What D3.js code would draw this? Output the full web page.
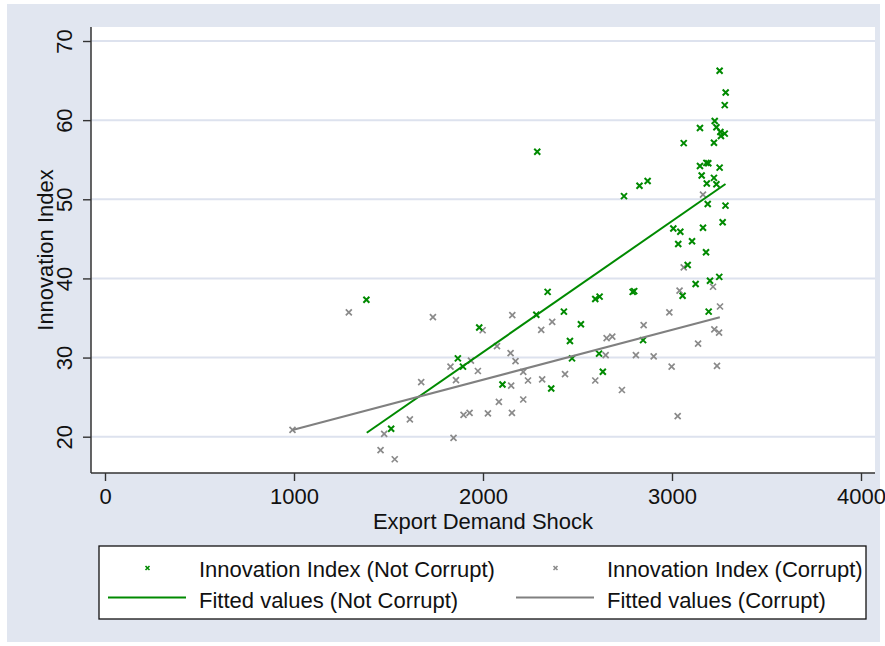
<!DOCTYPE html>
<html>
<head>
<meta charset="utf-8">
<script src="https://cdn.jsdelivr.net/npm/d3@7"></script>
<style>
  body { margin: 0; background: #ffffff; }
  text { font-family: "Liberation Sans", Arial, Helvetica, sans-serif; }
</style>
</head>
<body>
<div id="chart"></div>
<script>
// scatter points
var notCorruptX = [1383, 1514, 1867, 1894, 1980, 2103, 2282, 2287, 2342, 2361, 2428, 2460, 2471, 2518,
  2594, 2617, 2614, 2634, 2746, 2792, 2800, 2828, 2847, 2871, 3007, 3033, 3044, 3056, 3062, 3083,
  3106, 3125, 3148, 3148, 3157, 3164, 3180, 3182, 3184, 3189, 3192, 3194, 3201, 3222, 3222, 3226,
  3235, 3235, 3250, 3252, 3252, 3256, 3259, 3268, 3279, 3279, 3283, 3284];
var notCorruptY = [37.3, 21.0, 29.9, 28.85, 33.8, 26.6, 35.4, 56.0, 38.3, 26.1, 35.8, 32.1, 29.9, 34.2,
  37.4, 37.7, 30.5, 28.2, 50.4, 38.3, 38.4, 51.7, 32.2, 52.3, 46.3, 44.35, 45.9, 37.8, 57.1, 41.7,
  44.7, 39.3, 59.0, 54.2, 53.0, 46.4, 43.3, 54.6, 52.0, 49.4, 54.55, 35.8, 39.7, 57.15, 52.7, 59.9,
  59.1, 51.9, 40.2, 66.25, 54.0, 58.5, 58.0, 47.1, 61.9, 58.3, 49.2, 63.5];

var corruptX = [992, 1290, 1458, 1477, 1533, 1613, 1673, 1735, 1828, 1844, 1857, 1897, 1929, 1936,
  1973, 1998, 2026, 2074, 2084, 2146, 2149, 2153, 2155, 2172, 2213, 2213, 2238, 2308, 2313, 2366,
  2434, 2594, 2649, 2654, 2684, 2735, 2809, 2850, 2903, 2986, 2998, 3030, 3040, 3062, 3138, 3164,
  3217, 3224, 3238, 3249, 3254];
var corruptY = [20.85, 35.7, 18.3, 20.35, 17.15, 22.2, 26.9, 35.1, 28.85, 19.85, 27.15, 22.75, 23.0, 29.6,
  28.3, 33.45, 22.95, 31.45, 24.4, 30.55, 26.45, 23.0, 35.35, 29.55, 28.2, 24.7, 27.1, 33.5, 27.25, 34.5,
  27.9, 27.1, 30.3, 32.45, 32.65, 25.9, 30.3, 34.1, 30.15, 35.7, 28.85, 22.6, 38.45, 41.4, 31.75, 50.6,
  38.95, 33.55, 28.95, 33.15, 36.45];

// fitted lines (ends)
var fitNotCorruptX = [1385, 3283];
var fitNotCorruptY = [20.5, 51.93];
var fitCorruptX = [992, 3253];
var fitCorruptY = [20.85, 35.09];

var xTicks = [0, 1000, 2000, 3000, 4000];
var yTicks = [20, 30, 40, 50, 60, 70];
var legendLabels = ['Innovation Index (Not Corrupt)', 'Innovation Index (Corrupt)',
                    'Fitted values (Not Corrupt)', 'Fitted values (Corrupt)'];

var green = '#008a00', gray = '#8a8a8a';
var width = 885, height = 646;
var plot = { left: 91, right: 875, top: 27, bottom: 473 };

var svg = d3.select('#chart').append('svg')
    .attr('width', width)
    .attr('height', height);

svg.append('rect')
    .attr('x', 7).attr('y', 4)
    .attr('width', 873).attr('height', 638)
    .attr('fill', '#e1e6f0');

svg.append('rect')
    .attr('x', plot.left).attr('y', plot.top)
    .attr('width', plot.right - plot.left).attr('height', plot.bottom - plot.top)
    .attr('fill', '#ffffff');

var x = d3.scaleLinear().domain([0, 4000]).range([105, 861]);
var y = d3.scaleLinear().domain([20, 70]).range([436.7, 41]);

// grid
svg.append('g').selectAll('line')
    .data(yTicks)
    .enter().append('line')
    .attr('x1', plot.left).attr('x2', plot.right)
    .attr('y1', function (d) { return y(d); })
    .attr('y2', function (d) { return y(d); })
    .attr('stroke', '#dde2ee')
    .attr('stroke-width', 2);

// axes
var xAxis = svg.append('g')
    .attr('transform', 'translate(0,' + plot.bottom + ')')
    .call(d3.axisBottom(x).tickValues(xTicks).tickFormat(d3.format('d')).tickSize(8).tickPadding(7));
xAxis.select('.domain').remove();
xAxis.selectAll('line').attr('stroke', '#333').attr('stroke-width', 1.4);
xAxis.selectAll('text')
    .attr('fill', '#111')
    .style('font-size', '22px');

var yAxis = svg.append('g')
    .attr('transform', 'translate(' + plot.left + ',0)')
    .call(d3.axisLeft(y).tickValues(yTicks).tickFormat(d3.format('d')).tickSize(8));
yAxis.select('.domain').remove();
yAxis.selectAll('line').attr('stroke', '#333').attr('stroke-width', 1.4);
yAxis.selectAll('text')
    .attr('x', null).attr('dy', null)
    .attr('transform', 'translate(-19,0) rotate(-90)')
    .attr('text-anchor', 'middle')
    .attr('fill', '#111')
    .style('font-size', '22px');

svg.append('line')
    .attr('x1', plot.left).attr('x2', plot.right)
    .attr('y1', plot.bottom).attr('y2', plot.bottom)
    .attr('stroke', '#333').attr('stroke-width', 1.5);
svg.append('line')
    .attr('x1', plot.left).attr('x2', plot.left)
    .attr('y1', plot.top).attr('y2', plot.bottom)
    .attr('stroke', '#333').attr('stroke-width', 1.5);

svg.append('text')
    .attr('x', (x(0) + x(4000)) / 2).attr('y', 529)
    .attr('text-anchor', 'middle')
    .style('font-size', '22px')
    .attr('fill', '#111')
    .text('Export Demand Shock');

svg.append('text')
    .attr('transform', 'translate(53,' + (plot.top + plot.bottom) / 2 + ') rotate(-90)')
    .attr('text-anchor', 'middle')
    .style('font-size', '22px')
    .attr('fill', '#111')
    .text('Innovation Index');

// markers
function cross(s) {
    return 'M' + (-s) + ',' + (-s) + 'L' + s + ',' + s + 'M' + (-s) + ',' + s + 'L' + s + ',' + (-s);
}

var corrupt = corruptX.map(function (d, i) { return [d, corruptY[i]]; });
var notCorrupt = notCorruptX.map(function (d, i) { return [d, notCorruptY[i]]; });

svg.append('g').selectAll('path')
    .data(corrupt)
    .enter().append('path')
    .attr('d', cross(3))
    .attr('transform', function (d) { return 'translate(' + x(d[0]) + ',' + y(d[1]) + ')'; })
    .attr('stroke', gray)
    .attr('stroke-width', 1.7)
    .attr('fill', 'none');

svg.append('g').selectAll('path')
    .data(notCorrupt)
    .enter().append('path')
    .attr('d', cross(3))
    .attr('transform', function (d) { return 'translate(' + x(d[0]) + ',' + y(d[1]) + ')'; })
    .attr('stroke', green)
    .attr('stroke-width', 2)
    .attr('fill', 'none');

var line = d3.line()
    .x(function (d) { return x(d[0]); })
    .y(function (d) { return y(d[1]); });

svg.append('path')
    .datum(fitNotCorruptX.map(function (d, i) { return [d, fitNotCorruptY[i]]; }))
    .attr('d', line)
    .attr('stroke', green)
    .attr('stroke-width', 2)
    .attr('fill', 'none');

svg.append('path')
    .datum(fitCorruptX.map(function (d, i) { return [d, fitCorruptY[i]]; }))
    .attr('d', line)
    .attr('stroke', '#808080')
    .attr('stroke-width', 2)
    .attr('fill', 'none');

// legend
var legend = svg.append('g');
legend.append('rect')
    .attr('x', 99).attr('y', 546)
    .attr('width', 767).attr('height', 73)
    .attr('fill', '#ffffff')
    .attr('stroke', '#111')
    .attr('stroke-width', 1.3);

var cols = [108, 516];
legendLabels.forEach(function (lab, i) {
    var col = i % 2, row = Math.floor(i / 2);
    var c = col === 0 ? green : gray;
    var lx = cols[col];
    var ly = row === 0 ? 568 : 597.5;
    if (row === 0) {
        legend.append('path')
            .attr('d', cross(2))
            .attr('transform', 'translate(' + (lx + 39.5) + ',' + ly + ')')
            .attr('stroke', c)
            .attr('stroke-width', 1.6)
            .attr('fill', 'none');
    } else {
        legend.append('line')
            .attr('x1', lx).attr('x2', lx + 78)
            .attr('y1', ly).attr('y2', ly)
            .attr('stroke', col === 0 ? green : '#808080')
            .attr('stroke-width', 2);
    }
    legend.append('text')
        .attr('x', lx + 91)
        .attr('y', row === 0 ? 577 : 608)
        .style('font-size', '22px')
        .attr('fill', '#111')
        .text(lab);
});
</script>
</body>
</html>
